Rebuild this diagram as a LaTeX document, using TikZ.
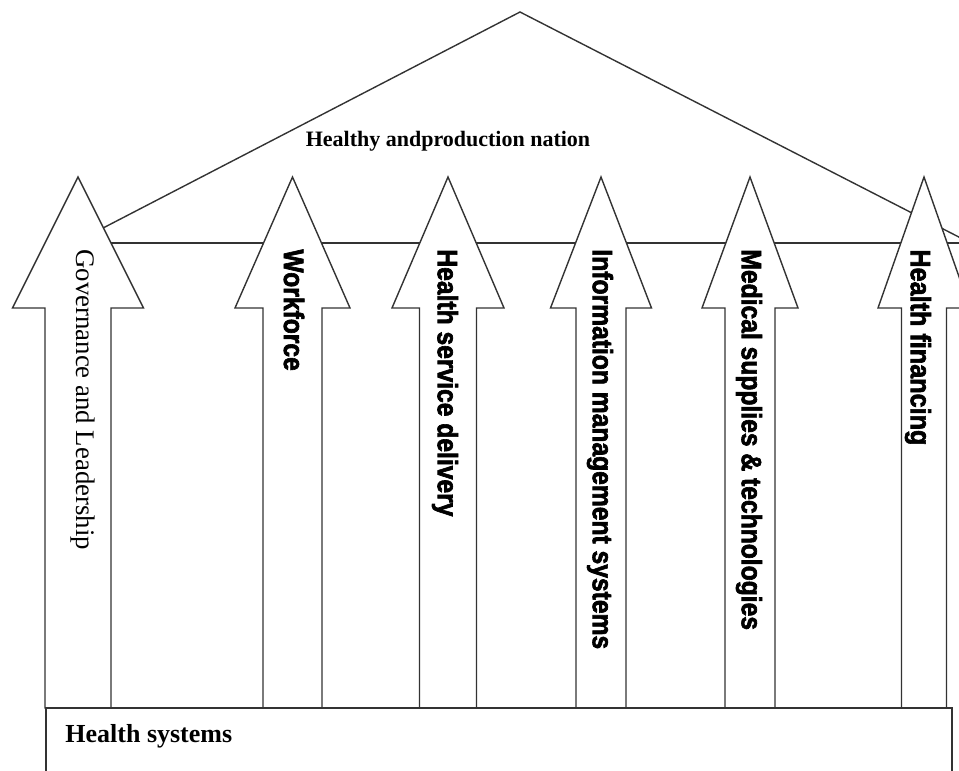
\documentclass[tikz,border=0pt]{standalone}
\usepackage{fontspec}
\setmainfont{Liberation Serif}
\newfontfamily\pillarfont[FakeBold=2.5]{Liberation Sans Bold}

\begin{document}
\begin{tikzpicture}[x=0.5pt,y=-0.5pt,
    line/.style={draw=black!80,line width=0.7pt},
    pillar/.style={line,fill=white,line join=miter},
    thick label/.style={rotate=-90,anchor=west,inner sep=0pt,
        font=\pillarfont\fontsize{14}{16}\selectfont}]
    \useasboundingbox (0,0) rectangle (959,771);
    % roof and beam
    \coordinate (apex) at (520,12);
    \coordinate (eaveL) at (78,241);
    \coordinate (eaveR) at (990,253);
    \draw[line] (eaveL) -- (apex) -- (eaveR);
    \draw[line] (100,243) coordinate (beamL) -- (980,243) coordinate (beamR);
    \node[font=\bfseries\fontsize{11}{13}\selectfont] (goal) at (448,141) {Healthy andproduction nation};
    % pillars: centre / head half width / shaft half width
    \foreach \cx/\hw/\sw in {78/65.5/33, 292.5/57.5/29.5, 448/56/28.5,
                            601/50.5/25, 750/48/25, 924/46/22.5}
        \draw[pillar] (\cx,177) -- (\cx+\hw,308) -- (\cx+\sw,308) -- (\cx+\sw,708)
            -- (\cx-\sw,708) -- (\cx-\sw,308) -- (\cx-\hw,308) -- cycle;
    \node[rotate=-90,anchor=west,inner sep=0pt,font=\fontsize{13.4}{16}\selectfont] (gov) at (83,249) {Governance and Leadership};
    \node[thick label] (work) at (294,249) {\scalebox{0.88}[1]{Workforce}};
    \node[thick label] (service) at (445,249) {\scalebox{0.88}[1]{Health service delivery}};
    \node[thick label] (info) at (600,249) {\scalebox{0.88}[1]{Information management systems}};
    \node[thick label] (supplies) at (749,249) {\scalebox{0.88}[1]{Medical supplies \& technologies}};
    \node[thick label] (finance) at (918,249) {\scalebox{0.9}[1]{Health financing}};
    % foundation
    \draw[line,fill=white] (46,708) rectangle (952,800);
    \node[anchor=west,inner sep=0pt,font=\bfseries\fontsize{13}{15}\selectfont] (base) at (65,736) {Health systems};
\end{tikzpicture}
\end{document}
